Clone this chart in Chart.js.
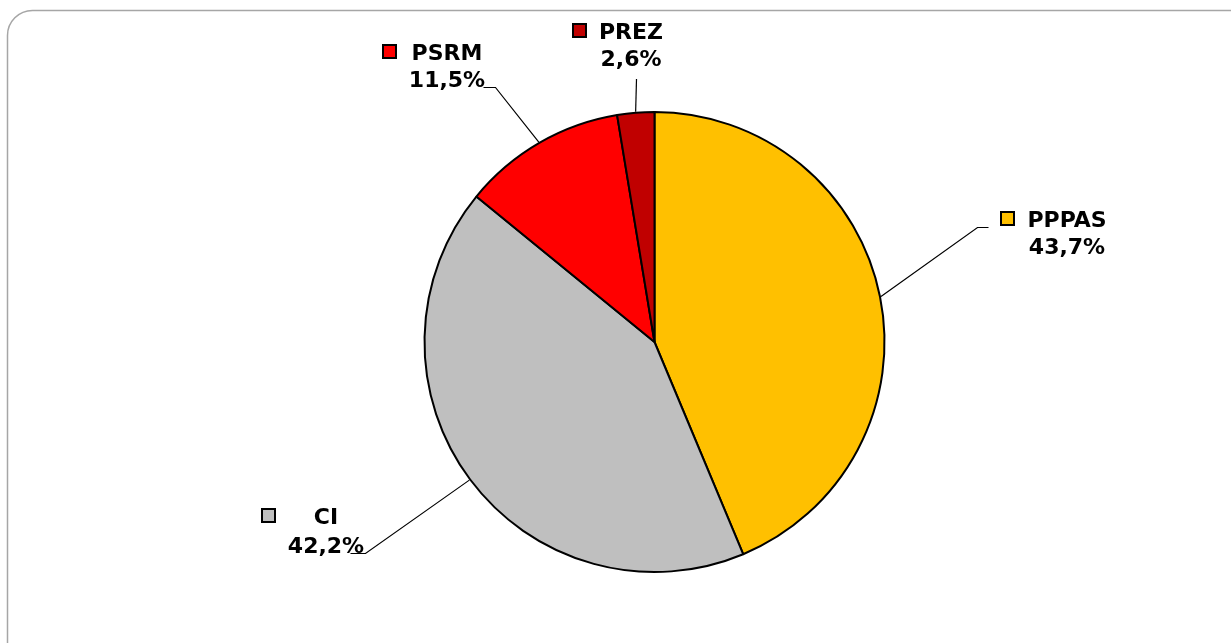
<!DOCTYPE html>
<html>
<head>
<meta charset="utf-8">
<script src="https://cdn.jsdelivr.net/npm/chart.js@4/dist/chart.umd.min.js"></script>
<style>
  html, body { margin: 0; padding: 0; background: #ffffff; }
  #wrap { width: 1231px; height: 643px; position: relative; }
</style>
</head>
<body>
<div id="wrap"><canvas id="c" width="1231" height="643"></canvas></div>
<script>
// ---- data ----
const categories = ["PPPAS", "CI", "PSRM", "PREZ"];
const shares = [43.7, 42.2, 11.5, 2.6];
const valueLabels = ["43,7%", "42,2%", "11,5%", "2,6%"];
const sliceColors = ["#FFC000", "#BFBFBF", "#FF0000", "#C00000"];

// ---- label layout (annotation placement) ----
const labelLayout = [
  { cx: 1067, b1: 227, b2: 254, start: [988.5, 227.5], elbow: [977.5, 227.5] },
  { cx: 326,  b1: 524, b2: 553, start: [350.5, 553.5], elbow: [365.5, 553.5] },
  { cx: 447,  b1: 60,  b2: 87,  start: [483.5, 87.5],  elbow: [495.5, 87.5] },
  { cx: 631,  b1: 39,  b2: 66,  start: [636.5, 79],    elbow: null }
];

const frame = {
  id: 'frame',
  beforeDraw(chart) {
    const ctx = chart.ctx;
    ctx.save();
    ctx.fillStyle = '#ffffff';
    ctx.fillRect(0, 0, chart.width, chart.height);
    const x = 7.5, y = 10.5, r = 25;
    ctx.beginPath();
    ctx.moveTo(x, chart.height + 20);
    ctx.lineTo(x, y + r);
    ctx.arcTo(x, y, x + r, y, r);
    ctx.lineTo(chart.width + 20, y);
    ctx.strokeStyle = '#A6A6A6';
    ctx.lineWidth = 1.5;
    ctx.stroke();
    ctx.restore();
  }
};

const pieLabels = {
  id: 'pieLabels',
  afterDraw(chart) {
    const ctx = chart.ctx;
    const meta = chart.getDatasetMeta(0);
    ctx.save();
    ctx.font = "bold 22px 'DejaVu Sans'";
    ctx.textAlign = 'center';
    ctx.textBaseline = 'alphabetic';
    meta.data.forEach((arc, i) => {
      const p = arc.getProps(['x', 'y', 'startAngle', 'endAngle', 'outerRadius'], true);
      const mid = (p.startAngle + p.endAngle) / 2;
      const rr = p.outerRadius + 1;
      const ax = p.x + Math.cos(mid) * rr;
      const ay = p.y + Math.sin(mid) * rr;
      const L = labelLayout[i];
      // leader line
      ctx.beginPath();
      ctx.strokeStyle = '#000000';
      ctx.lineWidth = 1.2;
      ctx.moveTo(L.start[0], L.start[1]);
      if (L.elbow) ctx.lineTo(L.elbow[0], L.elbow[1]);
      ctx.lineTo(ax, ay);
      ctx.stroke();
      // text
      ctx.fillStyle = '#000000';
      ctx.fillText(categories[i], L.cx, L.b1);
      ctx.fillText(valueLabels[i], L.cx, L.b2);
      // key square
      const w1 = ctx.measureText(categories[i]).width;
      const w2 = ctx.measureText(valueLabels[i]).width;
      const left = L.cx - Math.max(w1, w2) / 2;
      const sx = Math.round(left - 12 - 14);
      const sy = L.b1 - 15;
      ctx.fillStyle = sliceColors[i];
      ctx.fillRect(sx, sy, 13, 13);
      ctx.lineWidth = 2;
      ctx.strokeStyle = '#000000';
      ctx.strokeRect(sx, sy, 13, 13);
    });
    ctx.restore();
  }
};

new Chart(document.getElementById('c'), {
  type: 'pie',
  data: {
    labels: categories,
    datasets: [{
      data: shares,
      backgroundColor: sliceColors,
      borderColor: '#000000',
      borderWidth: 2
    }]
  },
  options: {
    responsive: false,
    animation: false,
    layout: { padding: { top: 111, bottom: 70, left: 300, right: 222 } },
    plugins: {
      legend: { display: false },
      tooltip: { enabled: false },
      title: { display: false }
    }
  },
  plugins: [frame, pieLabels]
});
</script>
</body>
</html>
